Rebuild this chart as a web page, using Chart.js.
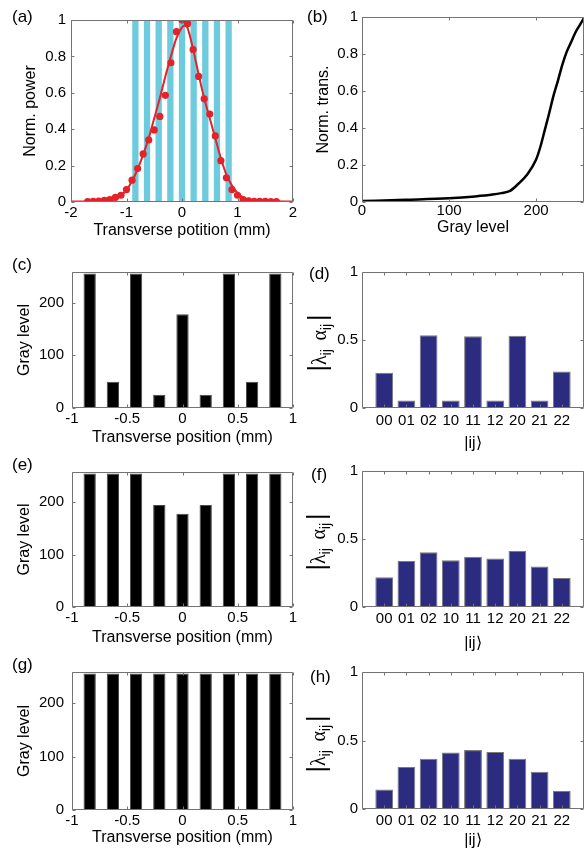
<!DOCTYPE html>
<html>
<head>
<meta charset="utf-8">
<title>Gray-level masks and mode coefficients</title>
<script src="https://cdn.jsdelivr.net/npm/chart.js@4.4.1/dist/chart.umd.min.js"></script>
<style>
  body { margin: 0; background: #fff; }
  #fig { position: relative; width: 587px; height: 851px; overflow: hidden; font-family: "Liberation Sans", Arial, sans-serif; color: #000; }
  #fig canvas { position: absolute; }
  .tag { position: absolute; font-size: 17px; line-height: 17px; }
  .ylab { position: absolute; white-space: nowrap; font-size: 20px; line-height: 24px; transform: translate(-50%, -50%) rotate(-90deg); }
  .ylab .bar { font-size: 25px; }
  .ylab i { font-family: "Liberation Serif", serif; font-style: normal; }
  .ylab sub { font-size: 14px; margin-right: 3px; }
</style>
</head>
<body>
<div id="fig"></div>
<script>
// (a) measured beam profile and its fit, plus the stripe positions
const powerX = [-1.7, -1.6, -1.5, -1.4, -1.3, -1.2, -1.1, -1.0, -0.9, -0.8, -0.7, -0.6, -0.5, -0.4, -0.3, -0.2, -0.1, 0,
  0.1, 0.2, 0.3, 0.4, 0.5, 0.6, 0.7, 0.8, 0.9, 1.0, 1.1, 1.2, 1.3, 1.4, 1.5, 1.6, 1.7];
const powerY = [0.002, 0.003, 0.005, 0.009, 0.013, 0.025, 0.037, 0.068, 0.12, 0.184, 0.264, 0.341, 0.396, 0.47, 0.586, 0.765, 0.936, 1.0,
  0.98, 0.838, 0.69, 0.567, 0.483, 0.363, 0.227, 0.133, 0.068, 0.037, 0.013, 0.007, 0.004, 0.003, 0.003, 0.002, 0.002];
const fitX = [-2, -1.5, -1.3, -1.2, -1.1, -1.0, -0.9, -0.8, -0.7, -0.6, -0.5, -0.4, -0.3, -0.2, -0.1, 0, 0.05,
  0.1, 0.2, 0.3, 0.4, 0.5, 0.6, 0.7, 0.8, 0.9, 1.0, 1.1, 1.2, 1.4, 2];
const fitY = [0.003, 0.004, 0.009, 0.018, 0.035, 0.065, 0.115, 0.18, 0.26, 0.35, 0.46, 0.57, 0.69, 0.80, 0.90, 0.96, 0.97,
  0.955, 0.84, 0.70, 0.57, 0.46, 0.35, 0.24, 0.15, 0.09, 0.05, 0.025, 0.012, 0.005, 0.003];
const stripeX = [-0.84, -0.63, -0.42, -0.21, 0, 0.21, 0.42, 0.63, 0.84];
const stripeY = [1, 1, 1, 1, 1, 1, 1, 1, 1];

// (b) transmission vs gray level
const grayLevel = [0, 50, 100, 130, 150, 160, 170, 180, 190, 200, 205, 210, 215, 220, 225, 230, 235, 240, 245, 250, 255];
const normTrans = [0.005, 0.012, 0.02, 0.03, 0.04, 0.048, 0.06, 0.1, 0.15, 0.23, 0.3, 0.39, 0.48, 0.575, 0.655, 0.74, 0.81, 0.862, 0.915, 0.955, 0.995];

// (c), (e), (g) gray levels of the nine stripes
const grayC = [255, 50, 255, 25, 178, 25, 255, 50, 255];
const grayE = [255, 255, 255, 195, 178, 195, 255, 255, 255];
const grayG = [255, 255, 255, 255, 255, 255, 255, 255, 255];

// (d), (f), (h) coefficients per state
const states = ['00', '01', '02', '10', '11', '12', '20', '21', '22'];
const stateIdx = [1, 2, 3, 4, 5, 6, 7, 8, 9];
const coefD = [0.26, 0.055, 0.535, 0.055, 0.527, 0.055, 0.532, 0.055, 0.268];
const coefF = [0.218, 0.338, 0.402, 0.343, 0.37, 0.356, 0.412, 0.297, 0.213];
const coefH = [0.143, 0.307, 0.367, 0.413, 0.43, 0.416, 0.367, 0.272, 0.131];

// tick values
const ticksPos2 = [-2, -1, 0, 1, 2];
const ticksPos1 = [-1, -0.5, 0, 0.5, 1];
const ticksUnit = [0, 0.2, 0.4, 0.6, 0.8, 1];
const ticksHalf = [0, 0.5, 1];
const ticksGray = [0, 100, 200];

Chart.defaults.font.family = '"Liberation Sans", Arial, sans-serif';
Chart.defaults.color = '#000';

const Y_W = 64, X_H = 44, PAD_T = 12, PAD_R = 10;
const fig = document.getElementById('fig');

const pts = (xs, ys) => xs.map((x, i) => ({ x, y: ys[i] }));

// box around the axes with inward ticks on all four sides
const frame = {
  id: 'frame',
  afterDatasetsDraw(chart) {
    const { ctx, chartArea: a } = chart;
    const { x, y } = chart.scales;
    const L = Math.round(a.left) + 0.5, R = Math.round(a.right) - 0.5;
    const T = Math.round(a.top) + 0.5, B = Math.round(a.bottom) - 0.5;
    ctx.save();
    ctx.strokeStyle = '#737373';
    ctx.lineWidth = 1;
    ctx.beginPath();
    x.ticks.forEach(t => {
      const px = Math.round(x.getPixelForValue(t.value)) + 0.5;
      ctx.moveTo(px, B); ctx.lineTo(px, B - 3);
      ctx.moveTo(px, T); ctx.lineTo(px, T + 3);
    });
    y.ticks.forEach(t => {
      const py = Math.round(y.getPixelForValue(t.value)) + 0.5;
      ctx.moveTo(L, py); ctx.lineTo(L + 3, py);
      ctx.moveTo(R, py); ctx.lineTo(R - 3, py);
    });
    ctx.rect(L, T, R - L, B - T);
    ctx.stroke();
    ctx.restore();
  }
};

function axis(a, horizontal) {
  return {
    type: 'linear',
    min: a.min,
    max: a.max,
    offset: false,
    afterBuildTicks: s => { s.ticks = a.ticks.map(v => ({ value: v })); },
    afterFit: s => {
      if (horizontal) { s.height = X_H; s.paddingLeft = 0; s.paddingRight = 0; }
      else { s.width = Y_W; s.paddingTop = 0; s.paddingBottom = 0; }
    },
    grid: { display: false, drawTicks: false },
    border: { display: false },
    ticks: {
      autoSkip: false,
      maxRotation: 0,
      padding: a.tickPad,
      font: { size: 15 },
      color: '#000',
      callback: a.labels ? (v, i) => a.labels[i] : v => String(v),
    },
    title: {
      display: !!a.title,
      text: a.title,
      font: { size: 16 },
      color: '#000',
      padding: horizontal ? { top: 0, bottom: a.titlePad } : { top: a.titlePad, bottom: 0 },
    },
  };
}

function makePanel(p) {
  const [L, T, R, B] = p.box;
  const cv = document.createElement('canvas');
  cv.width = R - L + Y_W + PAD_R;
  cv.height = B - T + PAD_T + X_H;
  cv.style.left = (L - Y_W) + 'px';
  cv.style.top = (T - PAD_T) + 'px';
  fig.appendChild(cv);

  const tag = document.createElement('div');
  tag.className = 'tag';
  tag.textContent = p.tag;
  tag.style.left = p.tagAt[0] + 'px';
  tag.style.top = p.tagAt[1] + 'px';
  fig.appendChild(tag);

  return new Chart(cv, {
    type: 'bar',
    data: { datasets: p.datasets },
    options: {
      responsive: false,
      animation: false,
      devicePixelRatio: 1,
      layout: { padding: { top: PAD_T, right: PAD_R, bottom: 0, left: 0 } },
      plugins: { legend: { display: false }, tooltip: { enabled: false } },
      scales: { x: axis(p.x, true), y: axis(p.y, false) },
    },
    plugins: [frame],
  });
}

function coefLabel(cx, cy) {
  const d = document.createElement('div');
  d.className = 'ylab';
  d.innerHTML = '<span class="bar">|</span><i>λ</i><sub>ij</sub> <i>α</i><sub>ij</sub><span class="bar">|</span>';
  d.style.left = cx + 'px';
  d.style.top = cy + 'px';
  fig.appendChild(d);
}

const grayBars = vals => [{
  type: 'bar', data: pts(stripeX, vals), backgroundColor: '#000', borderColor: '#4a4a4a', borderWidth: 1,
  borderSkipped: false, barPercentage: 0.53, categoryPercentage: 1,
}];
const coefBars = vals => [{
  type: 'bar', data: pts(stateIdx, vals), backgroundColor: '#2b2b80', borderColor: '#7a7a7a', borderWidth: 1,
  borderSkipped: false, barPercentage: 0.8, categoryPercentage: 1,
}];

// (a)
makePanel({
  tag: '(a)', tagAt: [12, 8], box: [71, 20, 293, 202],
  datasets: [
    { type: 'bar', data: pts(stripeX, stripeY), backgroundColor: '#6ccbdc', barPercentage: 0.54, categoryPercentage: 1, order: 3 },
    { type: 'line', data: pts(fitX, fitY), borderColor: '#e4222a', borderWidth: 2, pointRadius: 0, cubicInterpolationMode: 'monotone', order: 2 },
    { type: 'scatter', data: pts(powerX, powerY), backgroundColor: '#e4222a', borderWidth: 0, pointRadius: 3.6, order: 1 },
  ],
  x: { min: -2, max: 2, ticks: ticksPos2, tickPad: 1.5, title: 'Transverse potition (mm)', titlePad: 5.7 },
  y: { min: 0, max: 1, ticks: ticksUnit, tickPad: 5, title: 'Norm. power', titlePad: 14.4 },
});

// (b)
makePanel({
  tag: '(b)', tagAt: [307, 8], box: [362, 17, 584, 202],
  datasets: [
    { type: 'line', data: pts(grayLevel, normTrans), borderColor: '#000', borderWidth: 2.5, pointRadius: 0, cubicInterpolationMode: 'monotone' },
  ],
  x: { min: 0, max: 255, ticks: ticksGray, tickPad: 0, title: 'Gray level', titlePad: 8.4 },
  y: { min: 0, max: 1, ticks: ticksUnit, tickPad: 4, title: 'Norm. trans.', titlePad: 16.4 },
});

// (c)
makePanel({
  tag: '(c)', tagAt: [12, 256], box: [72, 272, 293, 408],
  datasets: grayBars(grayC),
  x: { min: -1, max: 1, ticks: ticksPos1, tickPad: 2, title: 'Transverse position (mm)', titlePad: 4.4 },
  y: { min: 0, max: 258, ticks: ticksGray, tickPad: 8, title: 'Gray level', titlePad: 7.4 },
});

// (d)
makePanel({
  tag: '(d)', tagAt: [309, 265], box: [362, 272, 584, 408],
  datasets: coefBars(coefD),
  x: { min: 0, max: 10, ticks: stateIdx, labels: states, tickPad: 4, title: '|ij⟩', titlePad: -1.6 },
  y: { min: 0, max: 1, ticks: ticksHalf, tickPad: 4 },
});
coefLabel(321, 343);

// (e)
makePanel({
  tag: '(e)', tagAt: [12, 456], box: [72, 472, 293, 607],
  datasets: grayBars(grayE),
  x: { min: -1, max: 1, ticks: ticksPos1, tickPad: 2.3, title: 'Transverse position (mm)', titlePad: 3.4 },
  y: { min: 0, max: 258, ticks: ticksGray, tickPad: 8, title: 'Gray level', titlePad: 7.4 },
});

// (f)
makePanel({
  tag: '(f)', tagAt: [311, 466], box: [362, 471, 584, 607],
  datasets: coefBars(coefF),
  x: { min: 0, max: 10, ticks: stateIdx, labels: states, tickPad: 3, title: '|ij⟩', titlePad: -2.6 },
  y: { min: 0, max: 1, ticks: ticksHalf, tickPad: 4 },
});
coefLabel(320, 542);

// (g)
makePanel({
  tag: '(g)', tagAt: [12, 656], box: [72, 672, 293, 810],
  datasets: grayBars(grayG),
  x: { min: -1, max: 1, ticks: ticksPos1, tickPad: 2, title: 'Transverse position (mm)', titlePad: 6.4 },
  y: { min: 0, max: 258, ticks: ticksGray, tickPad: 8, title: 'Gray level', titlePad: 7.4 },
});

// (h)
makePanel({
  tag: '(h)', tagAt: [310, 668], box: [362, 672, 584, 809],
  datasets: coefBars(coefH),
  x: { min: 0, max: 10, ticks: stateIdx, labels: states, tickPad: 3.3, title: '|ij⟩', titlePad: 2.4 },
  y: { min: 0, max: 1, ticks: ticksHalf, tickPad: 4 },
});
coefLabel(320, 744);
</script>
</body>
</html>
